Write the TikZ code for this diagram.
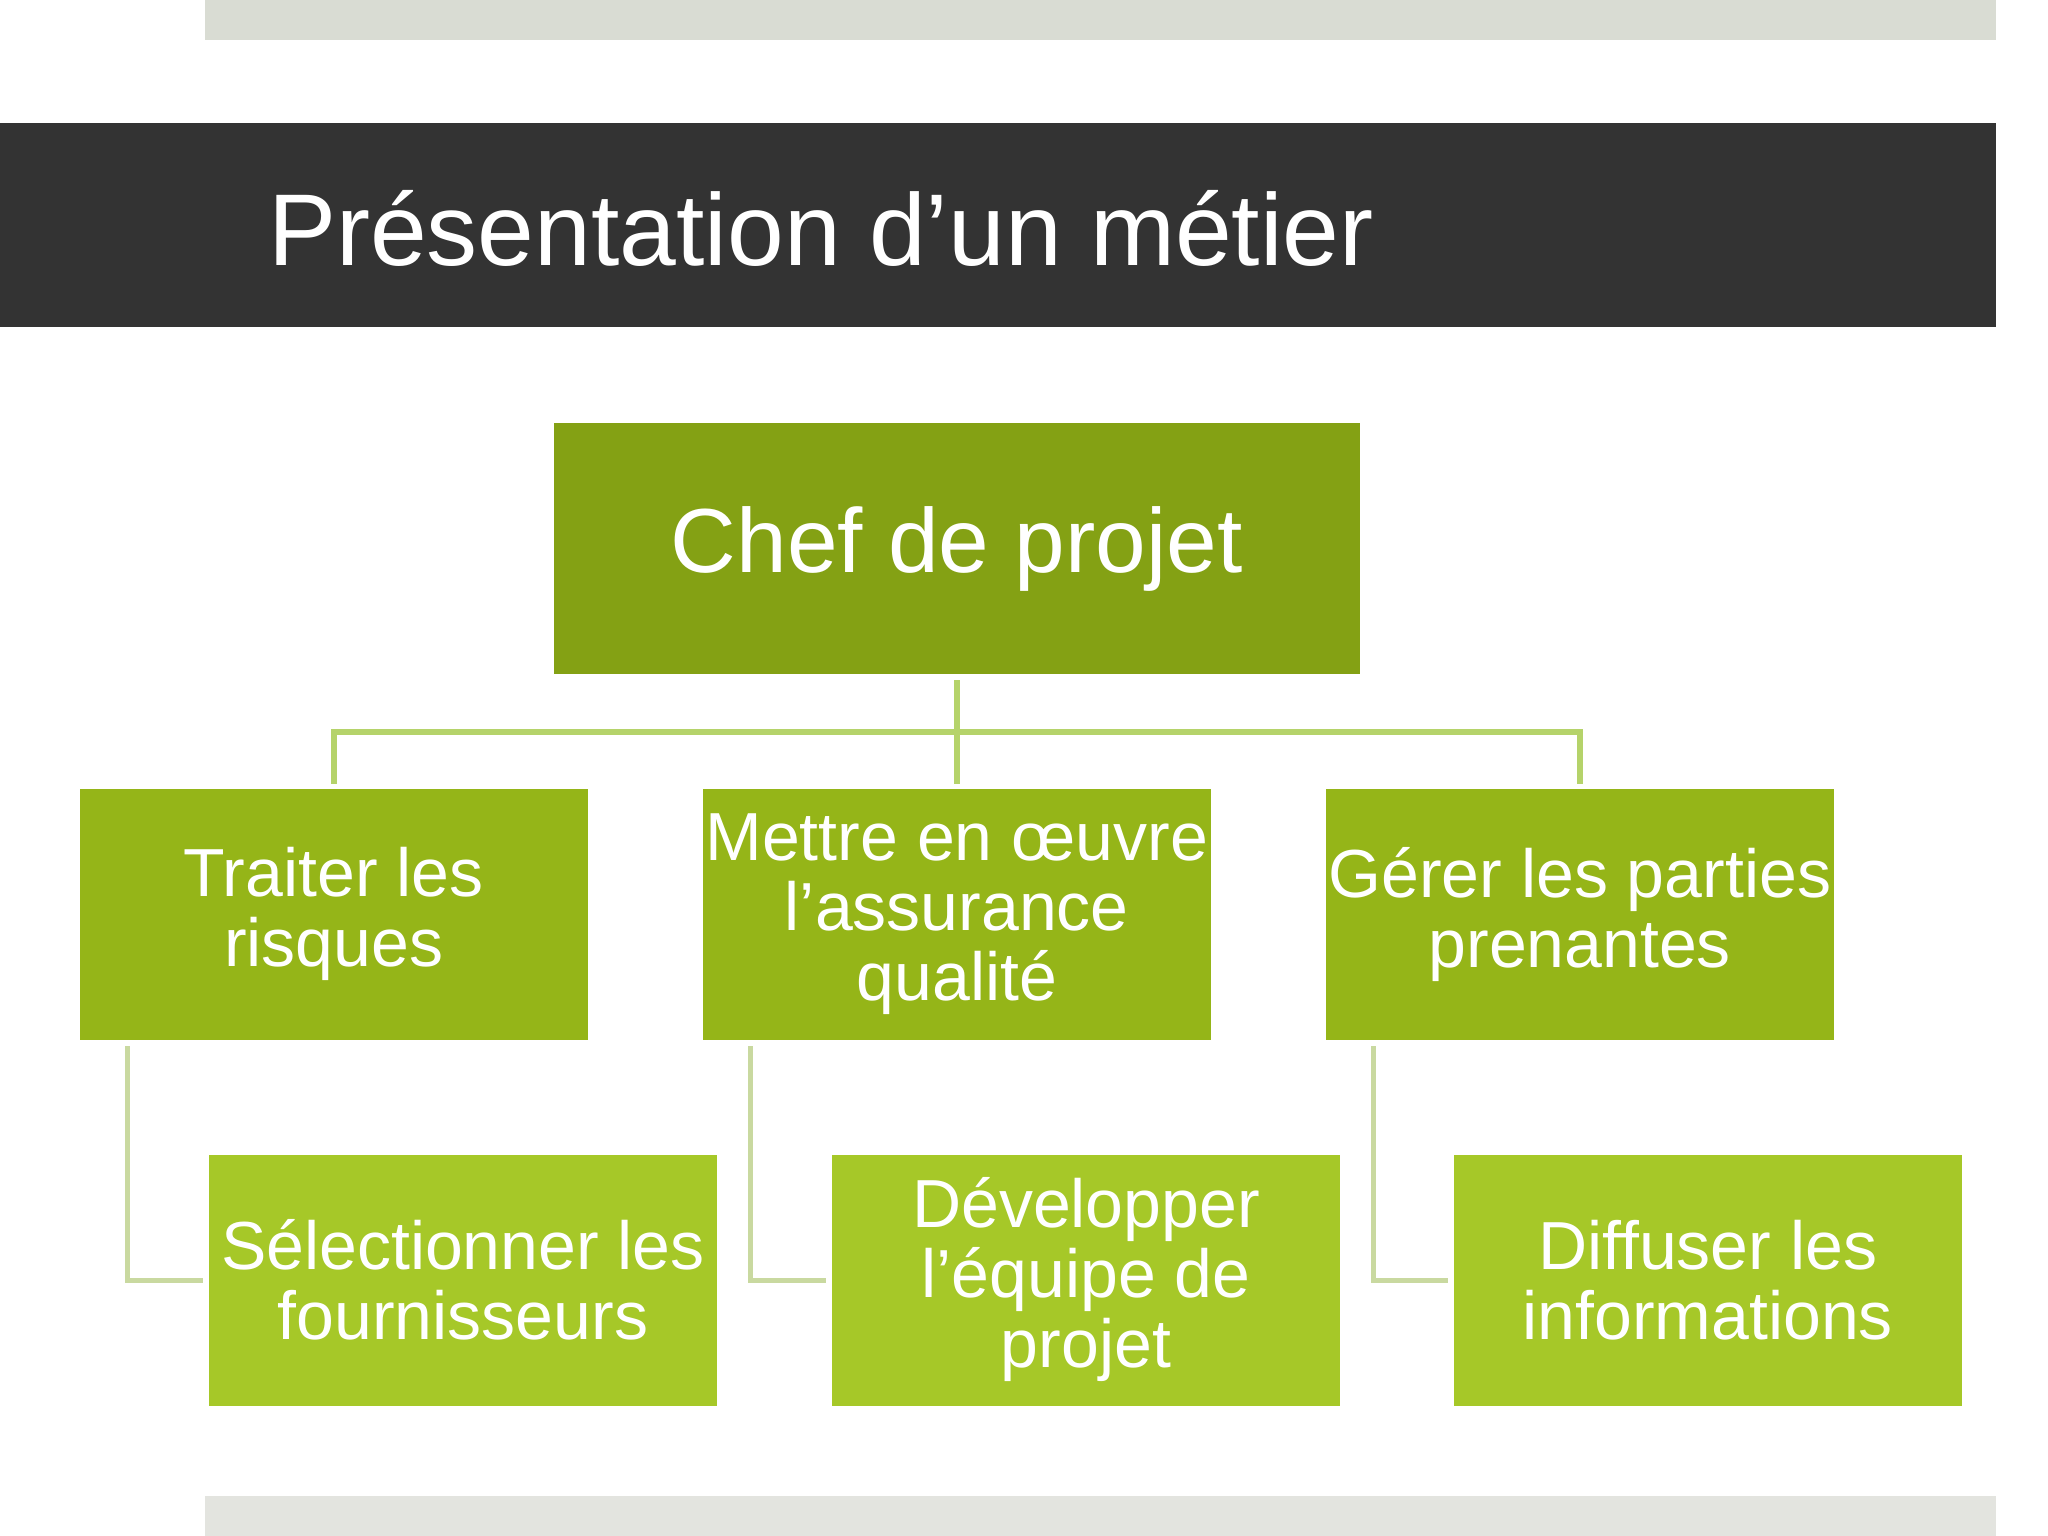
\documentclass[tikz,border=0pt]{standalone}
\usepackage{fontspec}
\setmainfont{Liberation Sans}
\usetikzlibrary{calc}
\definecolor{topbar}{RGB}{217,220,211}
\definecolor{botbar}{RGB}{227,228,223}
\definecolor{titlebg}{RGB}{51,51,51}
\definecolor{chefc}{RGB}{132,161,20}
\definecolor{lvltwo}{RGB}{149,181,24}
\definecolor{lvlthree}{RGB}{166,200,40}
\definecolor{linkmain}{RGB}{181,211,106}
\definecolor{linksub}{RGB}{201,217,160}
\tikzset{
  box/.style={rectangle, inner sep=0pt, text=white, align=center,
    minimum width=508pt, minimum height=251pt},
  chefbox/.style={box, fill=chefc, minimum width=806pt,
    font=\fontsize{91}{96}\selectfont},
  twobox/.style={box, fill=lvltwo, font=\fontsize{68}{70}\selectfont},
  threebox/.style={box, fill=lvlthree, font=\fontsize{68}{70}\selectfont},
  mainlink/.style={draw=linkmain, line width=6pt},
  sublink/.style={draw=linksub, line width=5pt},
}
\begin{document}
\begin{tikzpicture}[x=1pt,y=-1pt]
\useasboundingbox (0,0) rectangle (2048,1536);
\fill[white] (0,0) rectangle (2048,1536);
% bars
\fill[topbar] (205,0) rectangle (1996,40.5);
\fill[botbar] (205,1495.5) rectangle (1996,1536);
\fill[titlebg] (0,122.8) rectangle (1996,326.5);
\node[anchor=base west, inner sep=0pt, text=white,
  font=\fontsize{102}{110}\selectfont] (title) at (268,265) {Présentation d’un métier};
% nodes
\node[chefbox] (chef) at (956.8,548.6) {Chef de projet};
\node[twobox] (t1) at (333.8,914.3) {Traiter les\\risques};
\node[twobox] (t2) at (956.8,914.3) {Mettre en œuvre\\l’assurance\\qualité};
\node[twobox] (t3) at (1579.8,914.3) {Gérer les parties\\prenantes};
\node[threebox] (s1) at (463,1280) {Sélectionner les\\fournisseurs};
\node[threebox] (s2) at (1086,1280) {Développer\\l’équipe de\\projet};
\node[threebox] (s3) at (1707.7,1280) {Diffuser les\\informations};
% main connectors
\coordinate (bus) at ($(chef.south)+(0,57.4)$);
\draw[mainlink] ($(chef.south)+(0,6)$) -- ($(t2.north)+(0,-5)$);
\draw[mainlink] ($(t1.north)+(0,-5)$) |- (bus) -| ($(t3.north)+(0,-5)$);
% sub connectors
\foreach \a/\b in {t1/s1,t2/s2,t3/s3}{
  \draw[sublink] ($(\a.south west)+(48,6)$) |- ($(\b.west)+(-6,0)$);
}
\end{tikzpicture}
\end{document}
